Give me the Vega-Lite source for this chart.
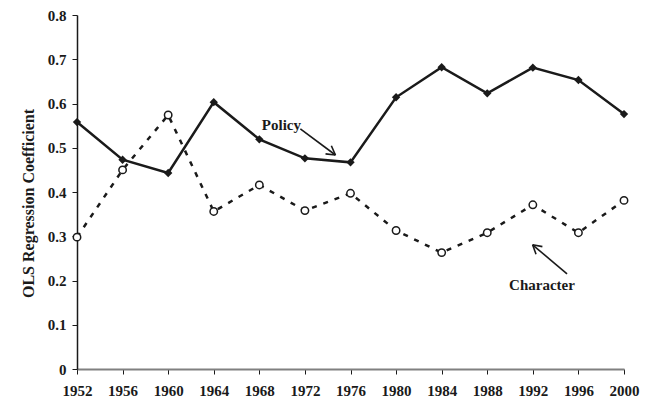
{
  "$schema": "https://vega.github.io/schema/vega-lite/v6.json",
  "autosize": "none",
  "padding": {"left": 77, "top": 15, "right": 25, "bottom": 31},
  "width": 547,
  "height": 354,
  "background": "white",
  "config": {
    "view": {"stroke": null},
    "font": "Liberation Serif",
    "axis": {"grid": false, "labelFont": "Liberation Serif", "labelFontWeight": "bold", "labelFontSize": 15, "labelColor": "#1a1a1a", "titleFont": "Liberation Serif", "titleFontWeight": "bold", "titleFontSize": 16, "titleColor": "#1a1a1a", "tickColor": "#1a1a1a", "tickSize": 5}
  },
  "datasets": {
    "series": [
      {"year": 1952, "series": "Policy", "value": 0.558},
      {"year": 1956, "series": "Policy", "value": 0.473},
      {"year": 1960, "series": "Policy", "value": 0.443},
      {"year": 1964, "series": "Policy", "value": 0.603},
      {"year": 1968, "series": "Policy", "value": 0.519},
      {"year": 1972, "series": "Policy", "value": 0.476},
      {"year": 1976, "series": "Policy", "value": 0.467},
      {"year": 1980, "series": "Policy", "value": 0.614},
      {"year": 1984, "series": "Policy", "value": 0.682},
      {"year": 1988, "series": "Policy", "value": 0.623},
      {"year": 1992, "series": "Policy", "value": 0.681},
      {"year": 1996, "series": "Policy", "value": 0.653},
      {"year": 2000, "series": "Policy", "value": 0.576},
      {"year": 1952, "series": "Character", "value": 0.298},
      {"year": 1956, "series": "Character", "value": 0.450},
      {"year": 1960, "series": "Character", "value": 0.574},
      {"year": 1964, "series": "Character", "value": 0.356},
      {"year": 1968, "series": "Character", "value": 0.416},
      {"year": 1972, "series": "Character", "value": 0.358},
      {"year": 1976, "series": "Character", "value": 0.397},
      {"year": 1980, "series": "Character", "value": 0.313},
      {"year": 1984, "series": "Character", "value": 0.263},
      {"year": 1988, "series": "Character", "value": 0.308},
      {"year": 1992, "series": "Character", "value": 0.371},
      {"year": 1996, "series": "Character", "value": 0.308},
      {"year": 2000, "series": "Character", "value": 0.381}
    ],
    "labels": [
      {"label": "Policy", "year": 1969.94, "value": 0.5515},
      {"label": "Character", "year": 1992.8, "value": 0.190}
    ],
    "arrows": [
      {"year": 1971.6, "value": 0.5425, "year2": 1974.68, "value2": 0.4836},
      {"year": 1974.32, "value": 0.5045, "year2": 1974.68, "value2": 0.4836},
      {"year": 1973.81, "value": 0.4862, "year2": 1974.68, "value2": 0.4836},
      {"year": 1995.0, "value": 0.2151, "year2": 1991.98, "value2": 0.2806},
      {"year": 1992.28, "value": 0.2594, "year2": 1991.98, "value2": 0.2806},
      {"year": 1992.84, "value": 0.2765, "year2": 1991.98, "value2": 0.2806}
    ]
  },
  "layer": [
    {
      "data": {"name": "series"},
      "transform": [{"filter": "datum.series === 'Policy'"}],
      "mark": {"type": "line", "color": "#1a1a1a", "strokeWidth": 2.5},
      "encoding": {
        "x": {"field": "year", "type": "quantitative", "scale": {"domain": [1952, 2000], "nice": false, "zero": false},
          "axis": {"values": [1952, 1956, 1960, 1964, 1968, 1972, 1976, 1980, 1984, 1988, 1992, 1996, 2000], "format": "d", "title": null, "domainColor": "#808080", "domainWidth": 2, "labelPadding": 9, "labelFlush": false}},
        "y": {"field": "value", "type": "quantitative", "scale": {"domain": [0, 0.8], "nice": false},
          "axis": {"values": [0, 0.1, 0.2, 0.3, 0.4, 0.5, 0.6, 0.7, 0.8], "labelExpr": "datum.value === 0 ? '0' : format(datum.value, '.1f')", "title": "OLS Regression Coefficient", "titlePadding": 11, "titleY": 188, "domainColor": "#1a1a1a", "domainWidth": 1.5, "labelPadding": 6}}
      }
    },
    {
      "data": {"name": "series"},
      "transform": [{"filter": "datum.series === 'Character'"}],
      "mark": {"type": "line", "color": "#1a1a1a", "strokeWidth": 2.5, "strokeDash": [5, 7]},
      "encoding": {
        "x": {"field": "year", "type": "quantitative"},
        "y": {"field": "value", "type": "quantitative"}
      }
    },
    {
      "data": {"name": "series"},
      "transform": [{"filter": "datum.series === 'Policy'"}],
      "mark": {"type": "point", "shape": "diamond", "filled": true, "color": "#1a1a1a", "size": 70, "opacity": 1},
      "encoding": {
        "x": {"field": "year", "type": "quantitative"},
        "y": {"field": "value", "type": "quantitative"}
      }
    },
    {
      "data": {"name": "series"},
      "transform": [{"filter": "datum.series === 'Character'"}],
      "mark": {"type": "point", "shape": "circle", "filled": false, "fill": "white", "fillOpacity": 1, "stroke": "#1a1a1a", "strokeWidth": 1.5, "size": 55, "opacity": 1},
      "encoding": {
        "x": {"field": "year", "type": "quantitative"},
        "y": {"field": "value", "type": "quantitative"}
      }
    },
    {
      "data": {"name": "arrows"},
      "mark": {"type": "rule", "color": "#1a1a1a", "strokeWidth": 1.6},
      "encoding": {
        "x": {"field": "year", "type": "quantitative"},
        "y": {"field": "value", "type": "quantitative"},
        "x2": {"field": "year2"},
        "y2": {"field": "value2"}
      }
    },
    {
      "data": {"name": "labels"},
      "mark": {"type": "text", "font": "Liberation Serif", "fontWeight": "bold", "fontSize": 15, "color": "#1a1a1a", "align": "center", "baseline": "middle"},
      "encoding": {
        "x": {"field": "year", "type": "quantitative"},
        "y": {"field": "value", "type": "quantitative"},
        "text": {"field": "label"}
      }
    }
  ]
}
